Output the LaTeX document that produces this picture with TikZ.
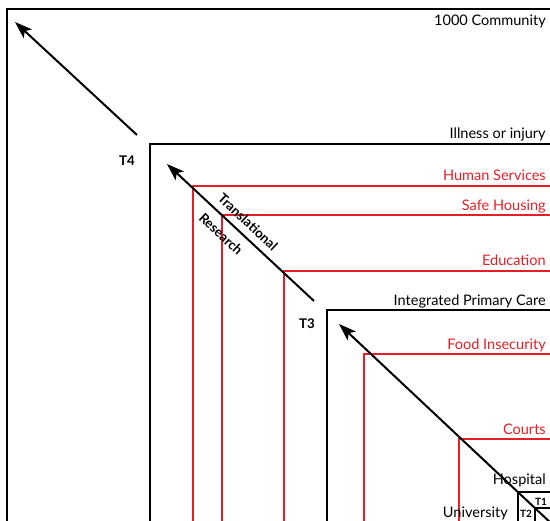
\documentclass[tikz,border=0pt]{standalone}
\usepackage{fontspec}
\setmainfont{Lato}
\usetikzlibrary{positioning,arrows.meta}
\definecolor{lred}{RGB}{232,30,38}

\begin{document}
\begin{tikzpicture}[x=0.75pt,y=-0.75pt,
		>={Stealth[length=13pt,width=9pt,inset=3pt]},
		blk/.style={draw=black,line width=1.5pt},
		rd/.style={draw=lred,line width=1pt},
		lab/.style={anchor=base east,inner sep=0pt,font=\fontsize{10.9}{12}\selectfont},
		rlab/.style={lab,text=lred},
		tl/.style={inner sep=0pt,font=\fontsize{10}{12}\selectfont\bfseries},
		arr/.style={->,line width=1.5pt}]
   \useasboundingbox (0,0) rectangle (550,521);
   \clip (0,0) rectangle (550,521);
%% nested corners
   \draw [blk] (560,9)   -| (7,530);
   \draw [blk] (560,144) -| (150,530);
   \draw [rd]  (560,186) -| (193,530);
   \draw [rd]  (560,215) -| (222,530);
   \draw [rd]  (560,271) -| (284,530);
   \draw [blk] (560,310) -| (327,530);
   \draw [rd]  (560,354) -| (364,530);
   \draw [rd]  (560,439) -| (459,530);
   \draw [blk] (560,492) -| (518,530);
   \draw [blk] (560,508) -| (535,530);
%% labels
   \node [lab]  (com) at (546,25)  {1000 Community};
   \node [lab]  (ill) at (546,138) {Illness or injury};
   \node [rlab] (hs)  at (546,180) {Human Services};
   \node [rlab] (sh)  at (546,210) {Safe Housing};
   \node [rlab] (edu) at (546,265) {Education};
   \node [lab]  (ipc) at (546,305) {Integrated Primary Care};
   \node [rlab] (fi)  at (546,349) {Food Insecurity};
   \node [rlab] (crt) at (546,434) {Courts};
   \node [lab]  (hos) at (546,484) {Hospital};
   \node [lab]  (uni) at (508,517) {University};
   \node [tl] (t4) at (127,161) {T4};
   \node [tl] (t3) at (307,324) {T3};
   \node [tl,font=\fontsize{7.5}{9}\selectfont\bfseries] (t1) at (541,502) {T1};
   \node [tl,font=\fontsize{7.5}{9}\selectfont\bfseries] (t2) at (526,514) {T2};
   \node [font=\fontsize{10}{12}\selectfont\bfseries,rotate=-43,inner sep=0pt] (tr)  at (248,222) {Translational};
   \node [font=\fontsize{10}{12}\selectfont\bfseries,rotate=-43,inner sep=0pt] (res) at (221,234) {Research};
%% arrows
   \coordinate (a1s) at (137,135);  \coordinate (a1e) at (15,22);
   \coordinate (a2s) at (314,301);  \coordinate (a2e) at (167,164);
   \coordinate (a3s) at (570,541);  \coordinate (a3e) at (339,324);
   \draw [arr] (a1s) -- (a1e);
   \draw [arr] (a2s) -- (a2e);
   \draw [arr] (a3s) -- (a3e);
\end{tikzpicture}
\end{document}
